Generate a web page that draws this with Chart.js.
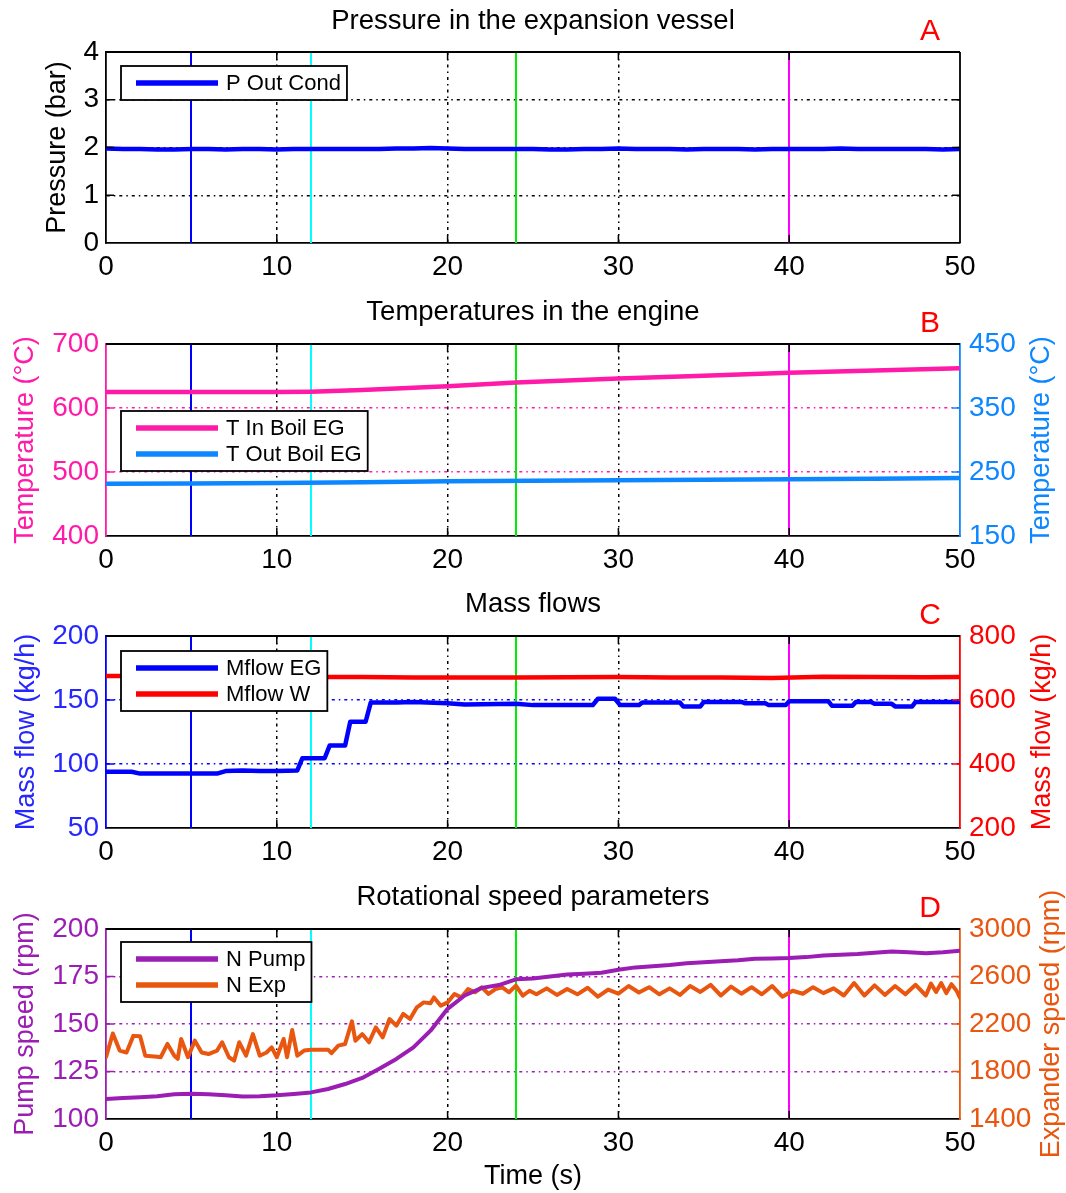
<!DOCTYPE html>
<html>
<head>
<meta charset="utf-8">
<script src="https://cdn.jsdelivr.net/npm/chart.js@4.4.1/dist/chart.umd.min.js"></script>
<style>
  html, body { margin: 0; padding: 0; background: #fff; }
  body { width: 1066px; height: 1193px; position: relative; overflow: hidden; }
  canvas { position: absolute; left: 0; }
</style>
</head>
<body>
<canvas id="cA" width="1066" height="292" style="top:0px"></canvas>
<canvas id="cB" width="1066" height="292" style="top:292px"></canvas>
<canvas id="cC" width="1066" height="292" style="top:584px"></canvas>
<canvas id="cD" width="1066" height="317" style="top:876px"></canvas>
<script>
// ---------------- DATA ----------------
const eventTimes = [5, 12, 24, 40];

// Panel A
const pressureTime = [0,1,2,3,4,5,6,7,8,9,10,11,12,13,14,15,16,17,18,19,20,21,22,23,24,25,26,27,28,29,30,31,32,33,34,35,36,37,38,39,40,41,42,43,44,45,46,47,48,49,50];
const pOutCond = [1.98,1.97,1.97,1.96,1.96,1.97,1.97,1.96,1.97,1.97,1.96,1.97,1.97,1.97,1.97,1.97,1.97,1.98,1.98,1.99,1.98,1.97,1.97,1.97,1.97,1.97,1.96,1.96,1.97,1.97,1.98,1.97,1.97,1.97,1.96,1.97,1.97,1.97,1.96,1.97,1.97,1.97,1.97,1.98,1.97,1.97,1.97,1.97,1.97,1.96,1.97];

// Panel B
const tInTime = [0,5,10,12,15,20,24,30,35,40,45,50];
const tInBoilEG = [625,625,625,625.5,628,634,640,646,650.5,655,658.5,662];
const tOutTime = [0,5,10,15,20,25,30,35,40,45,50];
const tOutBoilEG = [231.5,232,233,234,235.5,236.5,237,238,238.5,239.5,240.5];

// Panel C
const mflowEGTime = [0,1.5,2,5,6.5,7,8,9,10,11.2,11.5,12.8,13.1,14.0,14.3,15.2,15.5,17,18,20,21,24,25,27,28.5,28.8,29.8,30.1,31.2,31.4,33.6,33.8,34.8,35,37.2,37.4,38.6,38.8,39.8,40,42.3,42.5,43.7,43.9,44.8,45,46,46.2,47.2,47.4,50];
const mflowEG = [94,94,92.5,92.5,92.5,94.5,95,94.5,94.5,95,104.5,104.5,114.5,114.5,133,133,148,148,148.5,147.5,146.5,147,146,146,146,151,151,146,146,148,148,145,145,148.5,148.5,147.5,147.5,146,146,149,149,145.5,145.5,148.5,148.5,147,147,145,145,148.5,148.5];
const mflowWTime = [0,3,6,9,12,15,18,21,24,27,30,33,36,39,42,45,48,50];
const mflowW = [675,675,674,672,672,672,670,670,670,671,672,670,670,669,673,672,671,672];

// Panel D
const pumpTime = [0,1,2,3,4,5,6,7,8,9,10,11,12,13,14,15,16,17,18,19,20,21,22,23,24,25,26,27,28,29,30,31,32,33,34,35,36,37,38,39,40,41,42,43,44,45,46,47,48,49,50];
const nPump = [110.5,111,111.5,112,113,113.3,113,112.5,111.8,112,112.5,113.2,114,115.8,118.4,121.6,126.5,131.6,137.7,146.5,158,165,169,170.5,173.5,174,175,176,176.5,177,178.6,179.8,180.4,181,182,182.5,183,183.5,184.4,184.5,184.7,185.2,186,186.5,186.8,187.5,188.2,187.8,187.2,187.8,188.6];
const expTime = [0,0.4,0.8,1.2,1.6,2.0,2.3,3.0,3.2,3.6,4.0,4.2,4.4,4.8,5.2,5.6,6.0,6.5,6.8,7.2,7.5,7.8,8.2,8.6,9.0,9.4,9.7,10.0,10.4,10.6,10.9,11.2,11.6,12.0,12.5,13.0,13.2,13.6,14.0,14.4,14.6,15.0,15.4,15.8,16.2,16.6,17.0,17.4,17.8,18.2,18.6,19.0,19.2,19.6,20.0,20.4,20.8,21.2,21.6,22.0,22.4,22.8,23.2,23.6,24.0,24.4,24.8,25.2,25.8,26.4,27.0,27.6,28.2,28.8,29.4,30.0,30.6,31.2,31.8,32.4,33.0,33.6,34.2,34.8,35.4,36.0,36.6,37.2,37.8,38.4,39.0,39.6,40.2,40.8,41.4,42.0,42.6,43.2,43.8,44.4,45.0,45.6,46.2,46.8,47.4,48.0,48.3,48.6,48.9,49.2,49.5,49.8,50.0];
const nExp = [1920,2120,1976,1960,2100,2096,1933,1925,1920,2032,1933,1906,2074,1920,2060,1960,1947,1976,2046,1920,1891,2046,1933,2115,1933,1960,2003,1920,2074,1920,2149,1933,1976,1984,1984,1984,1954,2018,2032,2222,2059,2115,2046,2171,2088,2242,2186,2285,2242,2341,2382,2374,2424,2354,2382,2453,2424,2494,2467,2509,2453,2494,2509,2467,2523,2438,2480,2450,2500,2445,2495,2450,2505,2430,2490,2455,2520,2465,2510,2450,2500,2445,2520,2470,2530,2440,2515,2455,2510,2450,2520,2430,2480,2455,2510,2460,2500,2440,2545,2440,2525,2445,2520,2450,2530,2440,2540,2470,2545,2460,2535,2480,2420];

// ---------------- STYLE ----------------
const FONT = "'Liberation Sans', Arial, Helvetica, sans-serif";
const GRID_DASH = [3, 4, 1.5, 4];
const EVENT_COLORS = ['#0000ff', '#00ffff', '#00ee00', '#ff00ff'];
const PINK = '#ff1aa8', LBLUE = '#0d87ff', BLUE = '#0000ff', BLUE_TXT = '#2626ff', RED = '#ff0000', PURPLE = '#9b1db3', ORANGE = '#e8560f';

function xy(ts, vs) { return ts.map((t, i) => ({ x: t, y: vs[i] })); }
const plain = v => String(v);

const decor = {
  id: 'decor',
  beforeDatasetsDraw(chart, args, o) {
    const { ctx, chartArea: a, scales } = chart;
    ctx.save();
    ctx.lineWidth = 2;
    eventTimes.forEach((t, i) => {
      const x = Math.round(scales.x.getPixelForValue(t));
      ctx.strokeStyle = EVENT_COLORS[i];
      ctx.beginPath(); ctx.moveTo(x, a.top); ctx.lineTo(x, a.bottom); ctx.stroke();
    });
    ctx.restore();
  },
  afterDatasetsDraw(chart, args, o) {
    const { ctx, chartArea: a, scales } = chart;
    ctx.save();
    const TL = 8;
    ctx.lineWidth = 1.5;
    ctx.strokeStyle = '#000';
    scales.x.ticks.forEach(t => {
      if (t.value <= 0 || t.value >= 50) return;
      const x = scales.x.getPixelForValue(t.value);
      ctx.beginPath(); ctx.moveTo(x, a.bottom); ctx.lineTo(x, a.bottom - TL);
      ctx.moveTo(x, a.top); ctx.lineTo(x, a.top + TL); ctx.stroke();
    });
    const y = scales.y;
    y.ticks.forEach(t => {
      if (t.value <= y.min || t.value >= y.max) return;
      const py = y.getPixelForValue(t.value);
      ctx.strokeStyle = o.leftColor;
      ctx.beginPath(); ctx.moveTo(a.left, py); ctx.lineTo(a.left + TL, py); ctx.stroke();
      if (!o.hasRight) {
        ctx.strokeStyle = '#000';
        ctx.beginPath(); ctx.moveTo(a.right, py); ctx.lineTo(a.right - TL, py); ctx.stroke();
      }
    });
    if (o.hasRight) {
      const y2 = scales.y2;
      ctx.strokeStyle = o.rightColor;
      y2.ticks.forEach(t => {
        if (t.value <= y2.min || t.value >= y2.max) return;
        const py = y2.getPixelForValue(t.value);
        ctx.beginPath(); ctx.moveTo(a.right, py); ctx.lineTo(a.right - TL, py); ctx.stroke();
      });
    }
    ctx.lineWidth = 1.8;
    ctx.strokeStyle = '#000';
    ctx.beginPath(); ctx.moveTo(a.left, a.top); ctx.lineTo(a.right, a.top); ctx.stroke();
    if (!o.hasRight) {
      ctx.beginPath(); ctx.moveTo(a.right, a.top); ctx.lineTo(a.right, a.bottom); ctx.stroke();
    }
    // legend
    const items = chart.data.datasets.filter(d => d.label);
    ctx.font = '22px ' + FONT;
    const tw = Math.max(...items.map(d => ctx.measureText(d.label).width));
    const bx = a.left + 15, by = a.top + o.legendOffset;
    const bw = 15 + 82 + 8 + tw + 6;
    const bh = 34 + (items.length - 1) * 26;
    ctx.fillStyle = '#fff';
    ctx.fillRect(bx, by, bw, bh);
    ctx.lineWidth = 1.8; ctx.strokeStyle = '#000';
    ctx.strokeRect(bx, by, bw, bh);
    items.forEach((d, i) => {
      const ly = by + 17 + i * 26;
      ctx.strokeStyle = d.borderColor; ctx.lineWidth = 5.5;
      ctx.beginPath(); ctx.moveTo(bx + 15, ly); ctx.lineTo(bx + 97, ly); ctx.stroke();
      ctx.fillStyle = '#000'; ctx.textAlign = 'left'; ctx.textBaseline = 'middle';
      ctx.fillText(d.label, bx + 105, ly + 1);
    });
    // panel letter
    ctx.font = '30px ' + FONT;
    ctx.fillStyle = '#ff0000'; ctx.textAlign = 'center'; ctx.textBaseline = 'middle';
    ctx.fillText(o.letter, a.right - 30, a.top - 20);
    // right axis title (reads bottom to top)
    if (o.rightTitle) {
      ctx.save();
      ctx.translate(a.right + o.rightTitleDx, (a.top + a.bottom) / 2);
      ctx.rotate(-Math.PI / 2);
      ctx.font = '27px ' + FONT;
      ctx.fillStyle = o.rightColor; ctx.textAlign = 'center'; ctx.textBaseline = 'middle';
      ctx.fillText(o.rightTitle, 0, 0);
      ctx.restore();
    }
    ctx.restore();
  }
};

function makePanel(id, p) {
  const ptTop = p.titleC - p.canvasTop - 16.5;
  const ptBot = (p.plotTop - p.canvasTop) - ptTop - 33;
  const xh = p.canvasTop + p.canvasH - p.plotBottom;
  const edgeTransparent = (col, lo, hi) => ctx => {
    const v = ctx.tick ? ctx.tick.value : null;
    return (v === lo || v === hi) ? 'rgba(0,0,0,0)' : col;
  };
  const scales = {
    x: {
      type: 'linear', min: 0, max: 50,
      ticks: { stepSize: 10, color: '#000', font: { family: FONT, size: 28 }, padding: 7, maxRotation: 0, autoSkip: false, callback: plain },
      grid: { drawTicks: false, lineWidth: 1.5, color: edgeTransparent('#000', 0, 50) },
      border: { display: true, color: '#000', width: 1.8, dash: GRID_DASH },
      title: p.xTitle ? { display: true, text: p.xTitle, color: '#000', font: { family: FONT, size: 27 }, padding: { top: 0, bottom: 0 } } : { display: false },
      afterFit: s => { s.height = xh; }
    },
    y: {
      type: 'linear', position: 'left', min: p.left.min, max: p.left.max,
      ticks: { stepSize: p.left.step, color: p.left.tickColor, font: { family: FONT, size: 28 }, padding: 7, callback: plain },
      grid: { drawTicks: false, lineWidth: 1.5, color: edgeTransparent(p.left.gridColor, p.left.min, p.left.max) },
      border: { display: true, color: p.left.color, width: 1.8, dash: GRID_DASH },
      title: { display: true, text: p.left.title, color: p.left.tickColor, font: { family: FONT, size: 27 }, padding: { top: p.left.titlePad, bottom: 0 } },
      afterFit: s => { s.width = 106; }
    }
  };
  if (p.right) {
    scales.y2 = {
      type: 'linear', position: 'right', min: p.right.min, max: p.right.max,
      ticks: { stepSize: p.right.step, color: p.right.color, font: { family: FONT, size: 28 }, padding: 9, callback: plain },
      grid: { drawOnChartArea: false, drawTicks: false },
      border: { display: true, color: p.right.color, width: 1.8 },
      title: { display: false },
      afterFit: s => { s.width = 106; }
    };
  } else {
    // empty right margin so the plot area spans the same width as the other panels
    scales.y2 = {
      type: 'linear', position: 'right', min: p.left.min, max: p.left.max,
      ticks: { display: false },
      grid: { drawOnChartArea: false, drawTicks: false },
      border: { display: false },
      title: { display: false },
      afterFit: s => { s.width = 106; }
    };
  }
  return new Chart(document.getElementById(id), {
    type: 'line',
    data: {
      datasets: p.datasets.map(d => ({
        label: d.label, data: d.data, yAxisID: d.axis,
        borderColor: d.color, backgroundColor: d.color, borderWidth: d.width || 4,
        pointRadius: 0, tension: 0, borderJoinStyle: 'round', borderCapStyle: 'round', fill: false
      }))
    },
    options: {
      responsive: false, animation: false, devicePixelRatio: 1,
      layout: { padding: 0 },
      scales,
      plugins: {
        legend: { display: false },
        tooltip: { enabled: false },
        title: { display: true, text: p.title, color: '#000', font: { family: FONT, size: 27.5, weight: 'normal' }, padding: { top: ptTop, bottom: ptBot } },
        decor: {
          letter: p.letter, legendOffset: p.legendOffset, hasRight: !!p.right,
          leftColor: p.left.color, rightColor: p.right ? p.right.color : '#000',
          rightTitle: p.right ? p.right.title : null, rightTitleDx: p.right ? p.right.titleDx : 0
        }
      }
    },
    plugins: [decor]
  });
}

makePanel('cA', {
  canvasTop: 0, canvasH: 292, plotTop: 52, plotBottom: 243, titleC: 21,
  title: 'Pressure in the expansion vessel', letter: 'A', legendOffset: 14,
  left: { min: 0, max: 4, step: 1, color: '#000', tickColor: '#000', gridColor: '#000', title: 'Pressure (bar)', titlePad: 41 },
  right: null,
  datasets: [{ label: 'P Out Cond', data: xy(pressureTime, pOutCond), color: BLUE, axis: 'y', width: 4.5 }]
});

makePanel('cB', {
  canvasTop: 292, canvasH: 292, plotTop: 344, plotBottom: 536, titleC: 312,
  title: 'Temperatures in the engine', letter: 'B', legendOffset: 67,
  left: { min: 400, max: 700, step: 100, color: PINK, tickColor: PINK, gridColor: PINK, title: 'Temperature (°C)', titlePad: 9 },
  right: { min: 150, max: 450, step: 100, color: LBLUE, title: 'Temperature (°C)', titleDx: 82 },
  datasets: [
    { label: 'T In Boil EG', data: xy(tInTime, tInBoilEG), color: PINK, axis: 'y', width: 4.5 },
    { label: 'T Out Boil EG', data: xy(tOutTime, tOutBoilEG), color: LBLUE, axis: 'y2', width: 4.5 }
  ]
});

makePanel('cC', {
  canvasTop: 584, canvasH: 292, plotTop: 636, plotBottom: 828, titleC: 604,
  title: 'Mass flows', letter: 'C', legendOffset: 15,
  left: { min: 50, max: 200, step: 50, color: BLUE, tickColor: BLUE_TXT, gridColor: BLUE, title: 'Mass flow (kg/h)', titlePad: 10 },
  right: { min: 200, max: 800, step: 200, color: RED, title: 'Mass flow (kg/h)', titleDx: 83 },
  datasets: [
    { label: 'Mflow EG', data: xy(mflowEGTime, mflowEG), color: BLUE, axis: 'y', width: 4.5 },
    { label: 'Mflow W', data: xy(mflowWTime, mflowW), color: RED, axis: 'y2', width: 4.5 }
  ]
});

makePanel('cD', {
  canvasTop: 876, canvasH: 317, plotTop: 929, plotBottom: 1119, titleC: 897.5,
  title: 'Rotational speed parameters', letter: 'D', legendOffset: 13, xTitle: 'Time (s)',
  left: { min: 100, max: 200, step: 25, color: PURPLE, tickColor: PURPLE, gridColor: PURPLE, title: 'Pump speed (rpm)', titlePad: 9 },
  right: { min: 1400, max: 3000, step: 400, color: ORANGE, title: 'Expander speed (rpm)', titleDx: 92 },
  datasets: [
    { label: 'N Pump', data: xy(pumpTime, nPump), color: PURPLE, axis: 'y', width: 4 },
    { label: 'N Exp', data: xy(expTime, nExp), color: ORANGE, axis: 'y2', width: 4 }
  ]
});
</script>
</body>
</html>
